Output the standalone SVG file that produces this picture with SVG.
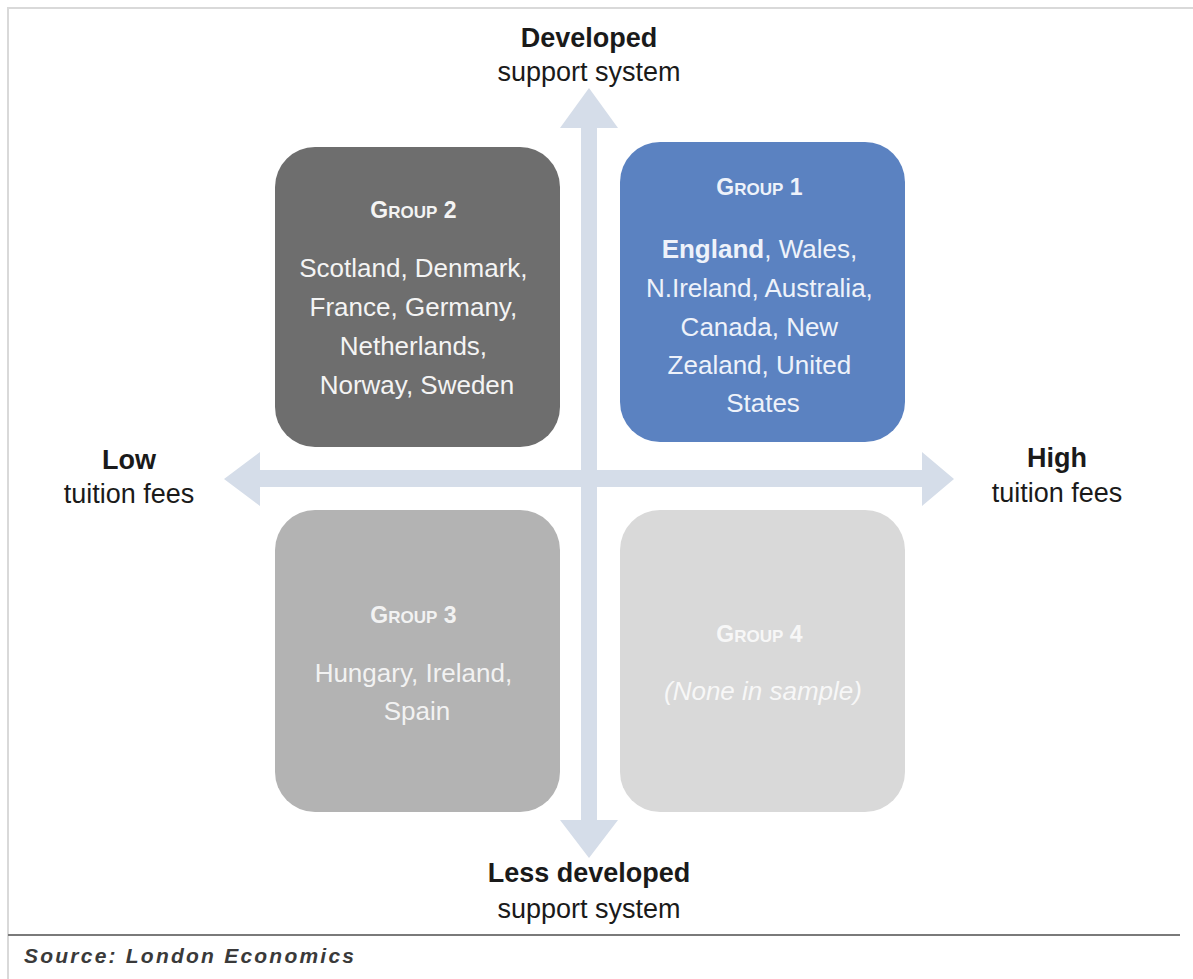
<svg xmlns="http://www.w3.org/2000/svg" width="1193" height="979" viewBox="0 0 1193 979">
<style>
.lbl{font-family:"Liberation Sans",Arial,sans-serif;font-size:27px;fill:#1a1a1a;text-anchor:middle}
.b{font-weight:bold}
.box{font-family:"Liberation Sans",Arial,sans-serif;font-size:26px;text-anchor:middle}
.ttl{font-weight:bold;font-size:23px}
.sc{font-size:17px}
.arrow{fill:#d5dde9}
</style>
<rect x="0" y="0" width="1193" height="979" fill="#ffffff"/>
<g id="frame" fill="none" stroke="#d9d9d9" stroke-width="2">
<path d="M8,979 V8 H1193"/>
</g>
<g id="connectors">
<path class="arrow" d="M581,128 H560 L589,88 L618,128 H597 V820 H618 L589,858 L560,820 H581 Z"/>
<path class="arrow" d="M260,470 V452 L224,479 L260,506 V487 H922 V506 L954,479 L922,452 V470 Z"/>
</g>
<g id="group2">
<rect x="275" y="147" width="285" height="300" rx="40" fill="#6e6e6e"/>
<text class="box" fill="#f4f4f4"><tspan class="ttl" x="417" y="218">G<tspan class="sc">ROUP</tspan> 2</tspan>
<tspan x="417" y="277">Scotland, Denmark,</tspan>
<tspan x="417" y="316">France, Germany,</tspan>
<tspan x="417" y="355">Netherlands,</tspan>
<tspan x="417" y="394">Norway, Sweden</tspan></text>
</g>
<g id="group1">
<rect x="620" y="142" width="285" height="300" rx="40" fill="#5b82c1"/>
<text class="box" fill="#eef2fa"><tspan class="ttl" x="763" y="195">G<tspan class="sc">ROUP</tspan> 1</tspan>
<tspan x="763" y="258"><tspan font-weight="bold">England</tspan>, Wales,</tspan>
<tspan x="763" y="297">N.Ireland, Australia,</tspan>
<tspan x="763" y="336">Canada, New</tspan>
<tspan x="763" y="374">Zealand, United</tspan>
<tspan x="763" y="412">States</tspan></text>
</g>
<g id="group3">
<rect x="275" y="510" width="285" height="302" rx="40" fill="#b3b3b3"/>
<text class="box" fill="#f2f2f2"><tspan class="ttl" x="417" y="623">G<tspan class="sc">ROUP</tspan> 3</tspan>
<tspan x="417" y="682">Hungary, Ireland,</tspan>
<tspan x="417" y="720">Spain</tspan></text>
</g>
<g id="group4">
<rect x="620" y="510" width="285" height="302" rx="40" fill="#d9d9d9"/>
<text class="box" fill="#f7f7f7"><tspan class="ttl" x="763" y="642">G<tspan class="sc">ROUP</tspan> 4</tspan>
<tspan x="763" y="700" font-style="italic">(None in sample)</tspan></text>
</g>
<g id="axis-labels">
<text class="lbl"><tspan class="b" x="589" y="47">Developed</tspan><tspan x="589" y="81">support system</tspan></text>
<text class="lbl"><tspan class="b" x="589" y="882">Less developed</tspan><tspan x="589" y="918">support system</tspan></text>
<text class="lbl"><tspan class="b" x="129" y="469">Low</tspan><tspan x="129" y="503">tuition fees</tspan></text>
<text class="lbl"><tspan class="b" x="1057" y="467">High</tspan><tspan x="1057" y="502">tuition fees</tspan></text>
</g>
<g id="footer">
<line x1="8" y1="935" x2="1180" y2="935" stroke="#7a7a7a" stroke-width="2"/>
<text x="24" y="963" font-family="'Liberation Sans',Arial,sans-serif" font-size="21" font-weight="bold" font-style="italic" fill="#3a3a3a" textLength="330" lengthAdjust="spacing">Source: London Economics</text>
</g>
</svg>
